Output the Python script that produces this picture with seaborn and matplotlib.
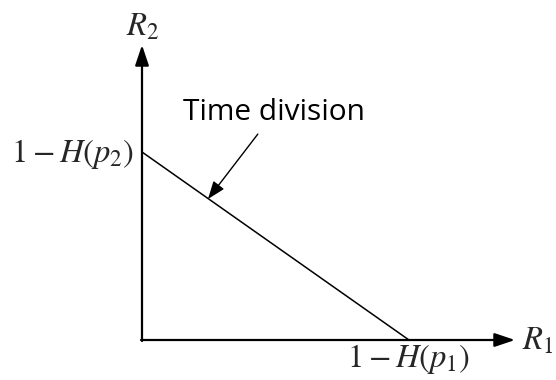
import matplotlib
matplotlib.use("Agg")
import matplotlib.pyplot as plt
import seaborn as sns
import pandas as pd

sns.set_theme(style="white")
plt.rcParams["mathtext.fontset"] = "stix"
plt.rcParams["font.family"] = ["Open Sans", "DejaVu Sans"]

# Capacity region boundary for time division
r1_max = 1.0   # 1 - H(p1)
r2_max = 0.7   # 1 - H(p2)
boundary_r1 = [0.0, r1_max]
boundary_r2 = [r2_max, 0.0]

axis_labels = [r"$R_1$", r"$R_2$"]
intercept_labels = [r"$1 - H(p_1)$", r"$1 - H(p_2)$"]
curve_label = "Time division"

fig = plt.figure(figsize=(5.56, 3.80), dpi=100)
ax = fig.add_axes([0, 0, 1, 1])

sx = 267.0           # pixels per unit along R1
sy = 188.0 / r2_max  # pixels per unit along R2
ax.set_xlim(-142 / sx, (556 - 142) / sx)
ax.set_ylim(-40 / sy, 340 / sy)
ax.axis("off")

df = pd.DataFrame({"R1": boundary_r1, "R2": boundary_r2})
sns.lineplot(data=df, x="R1", y="R2", ax=ax, color="black", linewidth=1.1,
             sort=False, legend=False)

# Coordinate axes with arrowheads
x_end = (515 - 142) / sx
y_end = (340 - 45) / sy
arrow_kw = dict(arrowstyle="-|>,head_length=0.95,head_width=0.32",
                mutation_scale=13, color="black", lw=1.6,
                shrinkA=0, shrinkB=0)
ax.annotate("", xy=(x_end, 0), xytext=(-1 / sx, 0), arrowprops=arrow_kw)
ax.annotate("", xy=(0, y_end), xytext=(0, -1 / sy), arrowprops=arrow_kw)

math_size = 23.5
ax.text((522 - 142) / sx, -1 / sy, axis_labels[0], fontsize=math_size,
        ha="left", va="center")
ax.text(1 / sx, (340 - 27) / sy, axis_labels[1], fontsize=math_size,
        ha="center", va="center")

ax.text(-8 / sx, (340 - 154) / sy, intercept_labels[1], fontsize=math_size,
        ha="right", va="center")
ax.text(r1_max, -19 / sy, intercept_labels[0], fontsize=math_size,
        ha="center", va="center")

# Label pointing at the boundary line
tip_x = (208 - 142) / sx
tip_y = (340 - 199) / sy
ax.annotate(curve_label, xy=(tip_x, tip_y),
            xytext=((274 - 142) / sx, (340 - 113) / sy),
            fontsize=21.5, ha="center", va="center", color="black",
            arrowprops=dict(arrowstyle="-|>,head_length=1.2,head_width=0.45",
                            mutation_scale=9, color="black", lw=1.0,
                            shrinkA=3, shrinkB=0))

fig.savefig("out.png", dpi=100)
